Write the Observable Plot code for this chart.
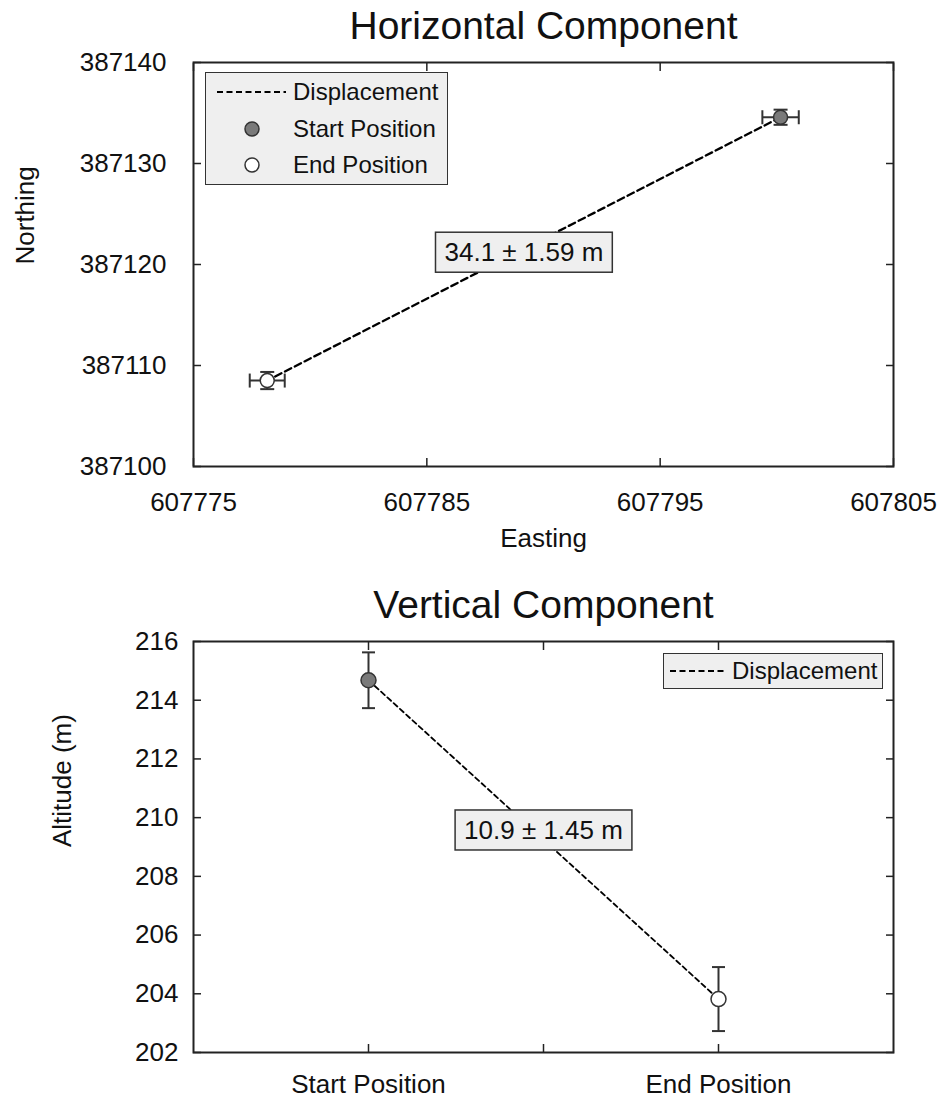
<!DOCTYPE html>
<html>
<head>
<meta charset="utf-8">
<script src="https://cdn.jsdelivr.net/npm/d3@7"></script>
<script src="https://cdn.jsdelivr.net/npm/@observablehq/plot@0.6"></script>
<style>
  body { margin: 0; background: #fff; }
  #wrap { position: relative; width: 943px; height: 1099px; font-family: "Liberation Sans", Arial, Helvetica, sans-serif; color: #111; }
  #wrap > svg { display: block; }
  .legend { position: absolute; background: #efefef; border: 1.5px solid #333; box-sizing: border-box; }
  .legend svg { position: absolute; left: 0; top: 0; overflow: visible; }
</style>
</head>
<body>
<div id="wrap"></div>
<script>
// ---------- data ----------
const positions = ["Start Position", "End Position"];
const positionIndex = [1, 2];
const easting = [607800.16, 607778.16];
const northing = [387134.58, 387108.51];
const eastingErr = [0.78, 0.75];
const northingErr = [0.75, 0.85];
const altitude = [214.68, 203.82];
const altitudeErr = [0.95, 1.09];
const markerFills = ["#7a7a7a", "#ffffff"];
const horizontalLabel = "34.1 ± 1.59 m";
const verticalLabel = "10.9 ± 1.45 m";
const eastingTicks = [607775, 607785, 607795, 607805];
const northingTicks = [387100, 387110, 387120, 387130, 387140];
const altitudeTicks = [202, 204, 206, 208, 210, 212, 214, 216];
const positionTicks = [1, 1.5, 2];
const positionTickLabels = {1: "Start Position", 1.5: "", 2: "End Position"};

const FONT = '"Liberation Sans", Arial, Helvetica, sans-serif';
const INK = "#222";

// symbols for error-bar caps
const vbar = { draw(ctx, size) { const r = Math.sqrt(size / Math.PI); ctx.moveTo(0, -r); ctx.lineTo(0, r); } };
const hbar = { draw(ctx, size) { const r = Math.sqrt(size / Math.PI); ctx.moveTo(-r, 0); ctx.lineTo(r, 0); } };

const hData = positions.map((p, i) => ({position: p, x: easting[i], y: northing[i], ex: eastingErr[i], ey: northingErr[i], fill: markerFills[i]}));
const hMid = [{x: d3.mean(easting), y: d3.mean(northing), label: horizontalLabel}];

const vData = positions.map((p, i) => ({position: p, x: positionIndex[i], y: altitude[i], ey: altitudeErr[i], fill: markerFills[i]}));
const vMid = [{x: d3.mean(positionIndex), y: d3.mean(altitude), label: verticalLabel}];

const wrap = document.getElementById("wrap");

// ---------- Horizontal component ----------
const hPlot = Plot.plot({
  width: 943, height: 560,
  marginLeft: 193, marginRight: 50, marginTop: 62, marginBottom: 94,
  style: {fontFamily: FONT, fontSize: "26px", color: "#111", background: "transparent"},
  x: {domain: [607775, 607805], nice: false},
  y: {domain: [387100, 387140], nice: false},
  marks: [
    Plot.text(["Horizontal Component"], {text: d => d, frameAnchor: "top", lineAnchor: "middle", dy: -36, fontSize: 39}),
    Plot.axisX({anchor: "bottom", ticks: eastingTicks, tickSize: 0, tickPadding: 26, tickFormat: d => String(d), label: null}),
    Plot.axisX({anchor: "bottom", ticks: eastingTicks, tickSize: 8, dy: -8, fill: "none", stroke: INK, strokeWidth: 1.5, label: null}),
    Plot.axisX({anchor: "top", ticks: eastingTicks, tickSize: 8, dy: 8, fill: "none", stroke: INK, strokeWidth: 1.5, label: null}),
    Plot.axisY({anchor: "left", ticks: northingTicks, tickSize: 0, tickPadding: 27, tickFormat: d => String(d), label: null}),
    Plot.axisY({anchor: "left", ticks: northingTicks, tickSize: 8, dx: 8, fill: "none", stroke: INK, strokeWidth: 1.5, label: null}),
    Plot.axisY({anchor: "right", ticks: northingTicks, tickSize: 8, dx: -8, fill: "none", stroke: INK, strokeWidth: 1.5, label: null}),
    Plot.text(["Easting"], {text: d => d, frameAnchor: "bottom", lineAnchor: "middle", dy: 72, fontSize: 26}),
    Plot.text(["Northing"], {text: d => d, frameAnchor: "left", rotate: -90, dx: -168, fontSize: 26}),
    Plot.frame({stroke: INK, strokeWidth: 2}),
    Plot.line(hData, {x: "x", y: "y", stroke: "#000", strokeWidth: 2.3, strokeDasharray: "7,4"}),
    Plot.link(hData, {x1: d => d.x - d.ex, x2: d => d.x + d.ex, y1: "y", y2: "y", stroke: "#333", strokeWidth: 2}),
    Plot.link(hData, {x1: "x", x2: "x", y1: d => d.y - d.ey, y2: d => d.y + d.ey, stroke: "#333", strokeWidth: 2}),
    Plot.dot(hData, {x: d => d.x - d.ex, y: "y", symbol: vbar, r: 7, stroke: "#333", strokeWidth: 2}),
    Plot.dot(hData, {x: d => d.x + d.ex, y: "y", symbol: vbar, r: 7, stroke: "#333", strokeWidth: 2}),
    Plot.dot(hData, {x: "x", y: d => d.y - d.ey, symbol: hbar, r: 7, stroke: "#333", strokeWidth: 2}),
    Plot.dot(hData, {x: "x", y: d => d.y + d.ey, symbol: hbar, r: 7, stroke: "#333", strokeWidth: 2}),
    Plot.dot(hData, {x: "x", y: "y", r: 7, fill: "fill", stroke: "#333", strokeWidth: 1.5}),
    Plot.text(hMid, {x: "x", y: "y", text: "label", dy: 4, fontSize: 26, className: "disp-label"})
  ]
});
wrap.appendChild(hPlot);

// ---------- Vertical component ----------
const vPlot = Plot.plot({
  width: 943, height: 539,
  marginLeft: 193, marginRight: 50, marginTop: 81, marginBottom: 47,
  style: {fontFamily: FONT, fontSize: "26px", color: "#111", background: "transparent"},
  x: {domain: [0.5, 2.5], nice: false},
  y: {domain: [202, 216], nice: false},
  marks: [
    Plot.text(["Vertical Component"], {text: d => d, frameAnchor: "top", lineAnchor: "middle", dy: -36, fontSize: 39}),
    Plot.axisX({anchor: "bottom", ticks: positionTicks, tickSize: 0, tickPadding: 22, tickFormat: d => positionTickLabels[d], label: null}),
    Plot.axisX({anchor: "bottom", ticks: positionTicks, tickSize: 8, dy: -8, fill: "none", stroke: INK, strokeWidth: 1.5, label: null}),
    Plot.axisX({anchor: "top", ticks: positionTicks, tickSize: 8, dy: 8, fill: "none", stroke: INK, strokeWidth: 1.5, label: null}),
    Plot.axisY({anchor: "left", ticks: altitudeTicks, tickSize: 0, tickPadding: 15, tickFormat: d => String(d), label: null}),
    Plot.axisY({anchor: "left", ticks: altitudeTicks, tickSize: 8, dx: 8, fill: "none", stroke: INK, strokeWidth: 1.5, label: null}),
    Plot.axisY({anchor: "right", ticks: altitudeTicks, tickSize: 8, dx: -8, fill: "none", stroke: INK, strokeWidth: 1.5, label: null}),
    Plot.text(["Altitude (m)"], {text: d => d, frameAnchor: "left", rotate: -90, dx: -131, fontSize: 26}),
    Plot.frame({stroke: INK, strokeWidth: 2}),
    Plot.line(vData, {x: "x", y: "y", stroke: "#000", strokeWidth: 1.8, strokeDasharray: "5,3.5"}),
    Plot.link(vData, {x1: "x", x2: "x", y1: d => d.y - d.ey, y2: d => d.y + d.ey, stroke: "#333", strokeWidth: 2}),
    Plot.dot(vData, {x: "x", y: d => d.y - d.ey, symbol: hbar, r: 6.5, stroke: "#333", strokeWidth: 2}),
    Plot.dot(vData, {x: "x", y: d => d.y + d.ey, symbol: hbar, r: 6.5, stroke: "#333", strokeWidth: 2}),
    Plot.dot(vData, {x: "x", y: "y", r: 7.5, fill: "fill", stroke: "#333", strokeWidth: 1.5}),
    Plot.text(vMid, {x: "x", y: "y", text: "label", dy: -9, fontSize: 26, className: "disp-label"})
  ]
});
wrap.appendChild(vPlot);

// boxes behind the displacement labels
const NS = "http://www.w3.org/2000/svg";
for (const t of document.querySelectorAll("g.disp-label text")) {
  const b = t.getBBox();
  const r = document.createElementNS(NS, "rect");
  r.setAttribute("x", b.x - 9);
  r.setAttribute("y", b.y - 5);
  r.setAttribute("width", b.width + 18);
  r.setAttribute("height", b.height + 10);
  r.setAttribute("fill", "#efefef");
  r.setAttribute("stroke", "#333");
  r.setAttribute("stroke-width", 1.5);
  if (t.getAttribute("transform")) r.setAttribute("transform", t.getAttribute("transform"));
  t.parentNode.insertBefore(r, t);
}

// ---------- legends ----------
function legend(left, topY, width, height, rows) {
  const div = document.createElement("div");
  div.className = "legend";
  Object.assign(div.style, {left: left + "px", top: topY + "px", width: width + "px", height: height + "px"});
  const svg = d3.create("svg").attr("width", width).attr("height", height)
    .style("font-family", FONT).style("font-size", "24px");
  for (const row of rows) {
    if (row.kind === "line") {
      svg.append("line").attr("x1", row.x1).attr("x2", row.x2).attr("y1", row.y).attr("y2", row.y)
        .attr("stroke", "#000").attr("stroke-width", 2).attr("stroke-dasharray", "6,3.5");
    } else {
      svg.append("circle").attr("cx", row.cx).attr("cy", row.y).attr("r", 7)
        .attr("fill", row.fill).attr("stroke", "#333").attr("stroke-width", 1.5);
    }
    svg.append("text").attr("x", row.tx).attr("y", row.y).attr("dy", "0.35em").attr("fill", "#111").text(row.text);
  }
  div.appendChild(svg.node());
  wrap.appendChild(div);
}
legend(205, 72, 243, 113, [
  {kind: "line", x1: 11, x2: 80, y: 19, tx: 87, text: "Displacement"},
  {kind: "dot", cx: 46, fill: markerFills[0], y: 56, tx: 87, text: positions[0]},
  {kind: "dot", cx: 46, fill: markerFills[1], y: 92, tx: 87, text: positions[1]}
]);
legend(663, 653, 220, 36, [
  {kind: "line", x1: 6, x2: 62, y: 17, tx: 68, text: "Displacement"}
]);
</script>
</body>
</html>
